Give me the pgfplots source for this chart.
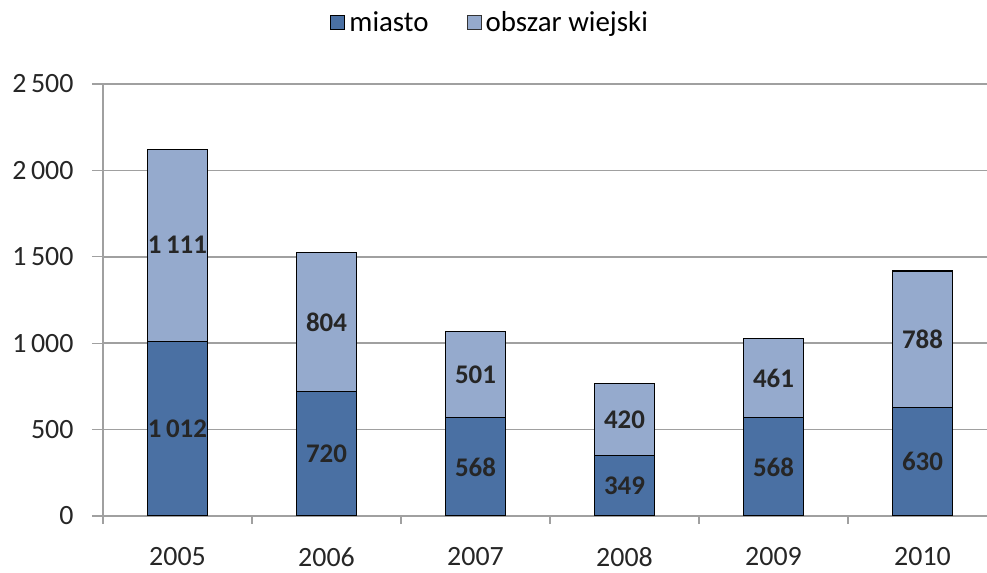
\documentclass[border=0pt]{standalone}
\usepackage{fontspec}
\setmainfont{Carlito}
\usepackage{pgfplots}
\pgfplotsset{compat=1.18}
\definecolor{dark}{RGB}{74,112,163}
\definecolor{light}{RGB}{149,170,205}
\definecolor{gridc}{RGB}{160,160,160}
\begin{document}
\begin{tikzpicture}
\begin{axis}[
  at={(0,0)}, anchor=south west,
  scale only axis, width=884bp, height=432bp,
  xmin=-0.5, xmax=5.433, ymin=0, ymax=2500,
  axis x line*=bottom, axis y line*=left,
  axis line style={draw=gridc, line width=1.2bp, -},
  ymajorgrids, grid style={draw=gridc, line width=1.5bp},
  ytick={0,500,...,2500},
  xtick={0,...,5},
  xticklabels={2005,2006,2007,2008,2009,2010},
  major x tick style={draw=none},
  minor xtick={-0.5,0.5,1.5,2.5,3.5,4.5},
  minor tick length=8bp,
  minor x tick style={draw=gridc, line width=1.2bp},
  major tick length=11bp,
  major y tick style={draw=gridc, line width=1.2bp},
  tick align=outside,
  /pgf/number format/assume math mode=true,
  /pgf/number format/1000 sep={\,},
  tick label style={font=\fontsize{28}{33}\selectfont, text=black!85},
  yticklabel style={xshift=-15bp},
  xticklabel style={yshift=-17bp},
  legend style={at={(0.438,1.1435)}, anchor=center, draw=none, fill=none,
    font=\fontsize{29}{34}\selectfont, legend columns=2,
    /tikz/every odd column/.append style={column sep=2bp},
    /tikz/every even column/.append style={column sep=36bp}},
  legend image code/.code={\draw[#1, line width=1bp] (0bp,-7bp) rectangle (14bp,7bp);},
  bar width=0.4,
]
\addplot[ybar, bar shift=0pt, fill=light, draw=black, line width=1.1bp, forget plot]
  coordinates {(0,2123) (1,1524) (2,1069) (3,769) (4,1029) (5,1418)};
\addplot[ybar, bar shift=0pt, fill=dark, draw=black, line width=1.1bp]
  coordinates {(0,1012) (1,720) (2,568) (3,349) (4,568) (5,630)};
\addlegendentry{miasto}
\addlegendimage{fill=light, draw=black!80}
\addlegendentry{obszar wiejski}
\addplot[only marks, mark=none, nodes near coords, point meta=explicit symbolic,
  every node near coord/.append style={anchor=center, font=\bfseries\fontsize{27}{32}\selectfont, text=black!85}]
  table[meta=label] {
x y label
0 506 {1\,012}
1 360 720
2 284 568
3 174.5 349
4 284 568
5 315 630
0 1567.5 {1\,111}
1 1122 804
2 818.5 501
3 559 420
4 798.5 461
5 1024 788
};
\end{axis}
\pgfresetboundingbox
\path (-103bp,-57bp) rectangle (884bp,516bp);
\end{tikzpicture}
\end{document}
